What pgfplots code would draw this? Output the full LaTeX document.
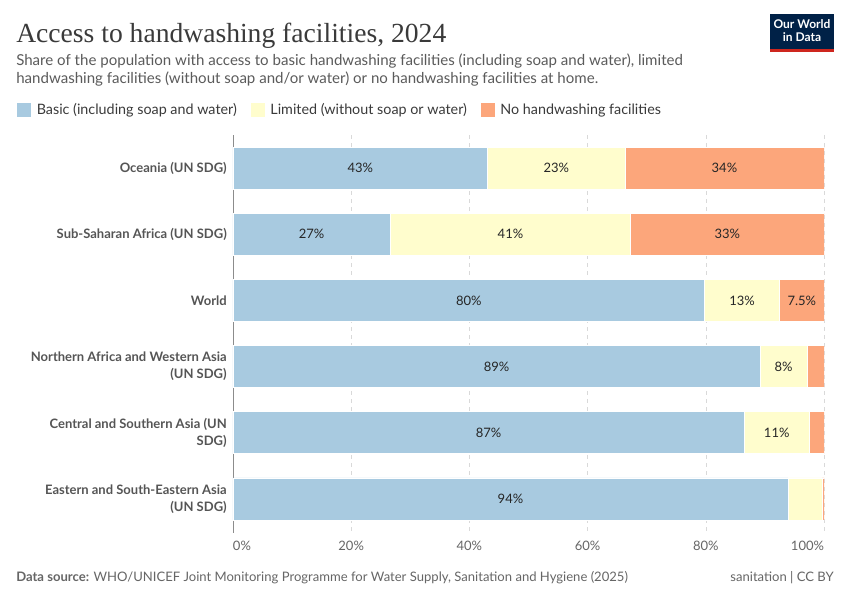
\documentclass[border=0pt]{standalone}
\usepackage{fontspec}
\setmainfont{Lato}
\newfontfamily\titlefont{Liberation Serif}
\usepackage{pgfplots}
\usepackage{pgfplotstable}
\pgfplotsset{compat=1.18}

\definecolor{basic}{HTML}{A8CAE0}
\definecolor{limited}{HTML}{FFFDCD}
\definecolor{nofac}{HTML}{FCA67B}
\definecolor{titlegray}{HTML}{3A3A3A}
\definecolor{subgray}{HTML}{5B5B5B}
\definecolor{labelgray}{HTML}{555555}
\definecolor{tickgray}{HTML}{666666}
\definecolor{owidblue}{HTML}{002147}
\definecolor{owidred}{HTML}{CE261E}

% shares in percent, top to bottom
\pgfplotstableread{
y basic limited nofac
0 43.1 23.2 33.7
1 26.6 40.7 32.7
2 79.8 12.7 7.5
3 89.2 7.9 2.9
4 86.5 11.0 2.5
5 93.9 5.8 0.3
}\handwash

\tikzset{lbl/.style={font=\fontsize{9.75}{12}\selectfont, text=black!85}}

\begin{document}
\begin{tikzpicture}
\fill[white] (0,0) rectangle (637.5pt,-450pt);
\path[use as bounding box] (0,0) rectangle (637.5pt,-450pt);

% header
\node[anchor=base west, inner sep=0, text=titlegray, font=\titlefont\fontsize{20.7}{24}\selectfont]
  at (12pt,-31.5pt) {Access to handwashing facilities, 2024};
\node[anchor=base west, inner sep=0, text=subgray, font=\fontsize{11.3}{13.5}\selectfont]
  at (12pt,-48.75pt) {Share of the population with access to basic handwashing facilities (including soap and water), limited};
\node[anchor=base west, inner sep=0, text=subgray, font=\fontsize{11.3}{13.5}\selectfont]
  at (12pt,-62.25pt) {handwashing facilities (without soap and/or water) or no handwashing facilities at home.};

% logo
\fill[owidblue] (577.5pt,-10.5pt) rectangle (625.5pt,-39pt);
\fill[owidred] (577.5pt,-36.75pt) rectangle (625.5pt,-39pt);
\node[text=white, align=center, inner sep=0, font=\fontsize{9}{10}\selectfont\bfseries]
  at (601.5pt,-23pt) {Our World\\in Data};

\begin{axis}[
  at={(174.75pt,-101.25pt)}, anchor=north west,
  scale only axis, width=443.25pt, height=297.75pt,
  xbar stacked, bar width=31.5pt,
  xmin=0, xmax=100, ymin=-0.5, ymax=5.5, y dir=reverse,
  axis line style={draw=none},
  major tick length=0pt,
  xtick={0,20,40,60,80,100},
  xticklabels={\makebox[0pt][l]{0\%},20\%,40\%,60\%,80\%,\makebox[0pt][r]{100\%}},
  xticklabel style={font=\fontsize{9.75}{12}\selectfont, text=tickgray, yshift=-3pt},
  xmajorgrids, grid style={draw=black!15, dash pattern=on 3pt off 3pt},
  ytick={0,1,2,3,4,5},
  yticklabels={Oceania (UN SDG),Sub-Saharan Africa (UN SDG),World,{Northern Africa and Western Asia\\(UN SDG)},{Central and Southern Asia (UN\\SDG)},{Eastern and South-Eastern Asia\\(UN SDG)}},
  yticklabel style={align=right, inner sep=0pt, xshift=-4.5pt, text=labelgray, font=\fontsize{9.75}{12.75}\selectfont\bfseries},
  legend style={at={(-0.3672,1.0831)}, anchor=north west, draw=none, fill=none, inner sep=0pt,
    font=\fontsize{10.75}{12}\selectfont, text=titlegray,
    nodes={inner sep=0pt, anchor=west},
    /tikz/every odd column/.append style={column sep=3.75pt},
    /tikz/every even column/.append style={column sep=9.75pt}},
  legend columns=-1,
  legend image code/.code={\fill[#1] (0pt,-5.6pt) rectangle (11.25pt,5.6pt);},
]
\addplot[fill=basic, draw=white, line width=0.4pt] table[x=basic, y=y] {\handwash};
\addplot[fill=limited, draw=white, line width=0.4pt] table[x=limited, y=y] {\handwash};
\addplot[fill=nofac, draw=white, line width=0.4pt] table[x=nofac, y=y] {\handwash};
\legend{Basic (including soap and water),Limited (without soap or water),No handwashing facilities}

\draw[black!45] (axis cs:0,-0.52) -- (axis cs:0,5.6);

% label anchors (stacked plots are drawn last, so labels go on after the axis)
\coordinate (l1) at (axis cs:21.55,0);
\coordinate (l2) at (axis cs:54.7,0);
\coordinate (l3) at (axis cs:83.15,0);
\coordinate (l4) at (axis cs:13.3,1);
\coordinate (l5) at (axis cs:46.95,1);
\coordinate (l6) at (axis cs:83.65,1);
\coordinate (l7) at (axis cs:39.9,2);
\coordinate (l8) at (axis cs:86.15,2);
\coordinate (l9) at (axis cs:96.25,2);
\coordinate (l10) at (axis cs:44.6,3);
\coordinate (l11) at (axis cs:93.15,3);
\coordinate (l12) at (axis cs:43.25,4);
\coordinate (l13) at (axis cs:92.0,4);
\coordinate (l14) at (axis cs:46.95,5);
\end{axis}

\node[lbl] at (l1) {43\%};
\node[lbl] at (l2) {23\%};
\node[lbl] at (l3) {34\%};
\node[lbl] at (l4) {27\%};
\node[lbl] at (l5) {41\%};
\node[lbl] at (l6) {33\%};
\node[lbl] at (l7) {80\%};
\node[lbl] at (l8) {13\%};
\node[lbl] at (l9) {7.5\%};
\node[lbl] at (l10) {89\%};
\node[lbl] at (l11) {8\%};
\node[lbl] at (l12) {87\%};
\node[lbl] at (l13) {11\%};
\node[lbl] at (l14) {94\%};

% footer
\node[anchor=base west, inner sep=0, text=tickgray, font=\fontsize{9.8}{11}\selectfont]
  at (12pt,-436pt) {\textbf{Data source:} WHO/UNICEF Joint Monitoring Programme for Water Supply, Sanitation and Hygiene (2025)};
\node[anchor=base east, inner sep=0, text=tickgray, font=\fontsize{9.8}{11}\selectfont]
  at (625.5pt,-436pt) {sanitation | CC BY};
\end{tikzpicture}
\end{document}
